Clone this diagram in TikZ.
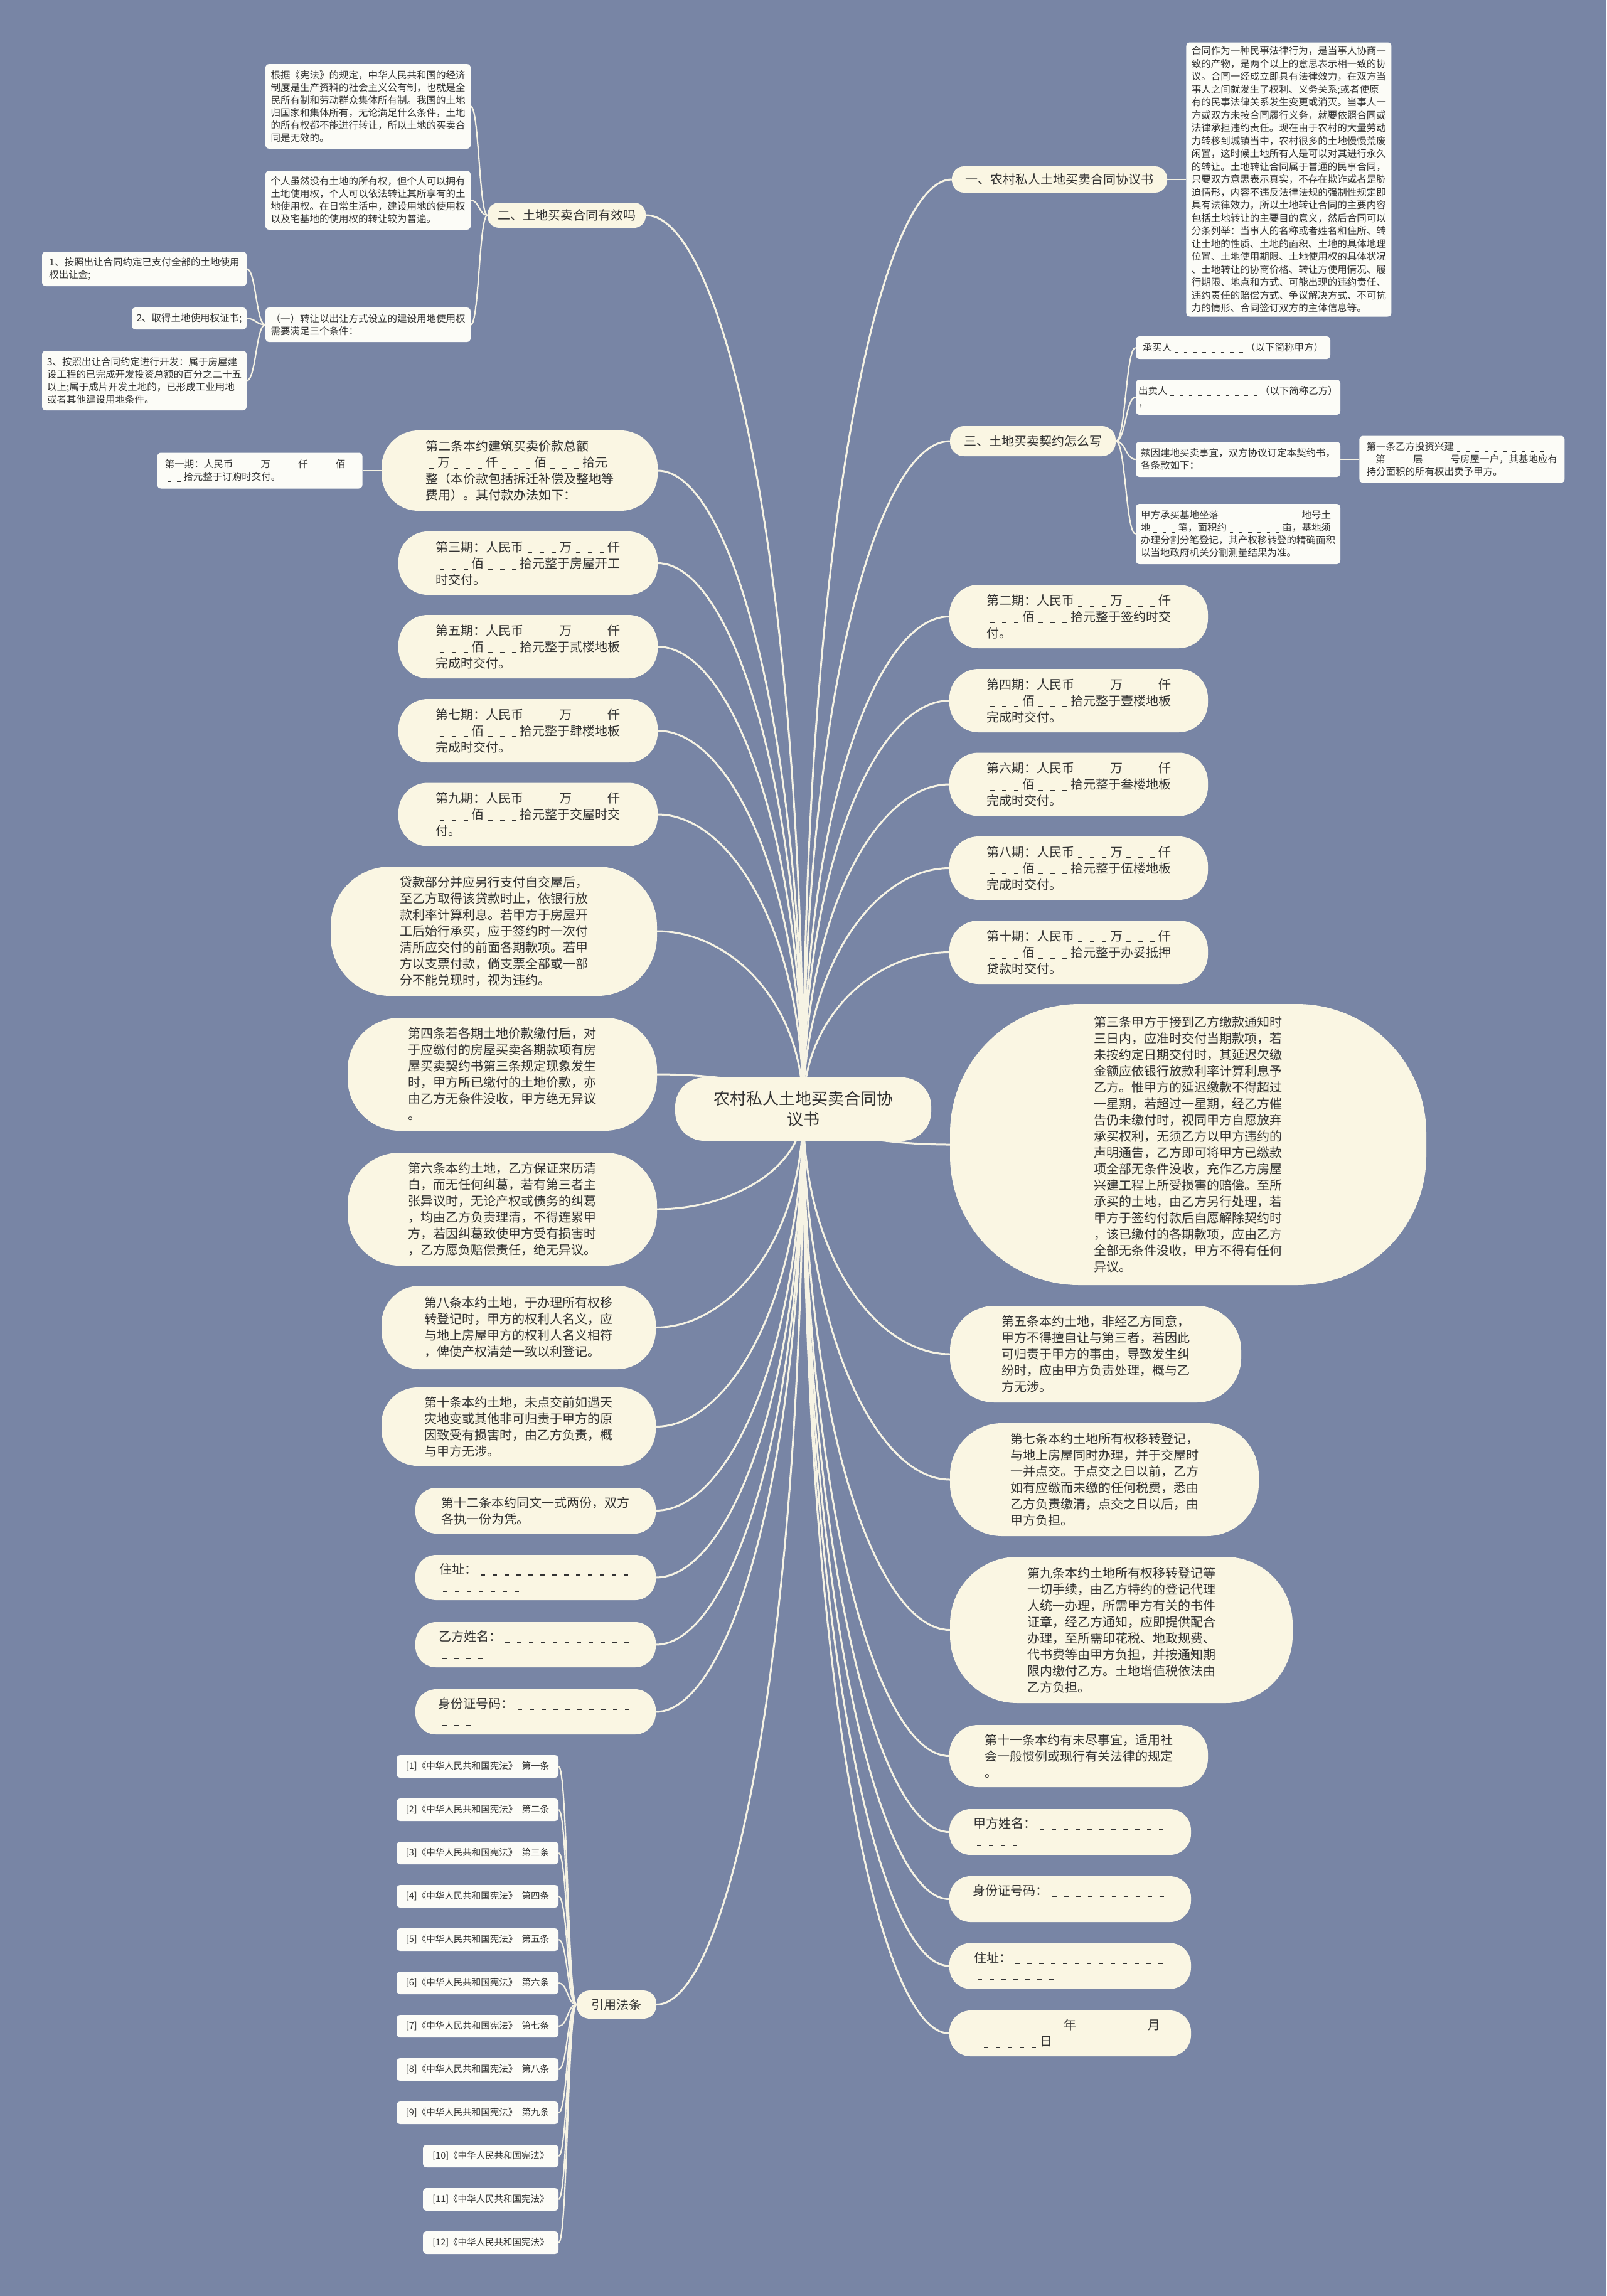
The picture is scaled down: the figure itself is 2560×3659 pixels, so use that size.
\documentclass[tikz,border=0pt]{standalone}
\usepackage{fontspec}
\setmainfont{Noto Sans CJK SC}
\usepackage{xcolor}
\usetikzlibrary{calc, positioning}
\definecolor{bgblue}{RGB}{120,133,165}
\definecolor{cream}{RGB}{250,246,227}
\definecolor{paper}{RGB}{252,252,247}
\definecolor{ink}{RGB}{51,51,51}
\definecolor{wire}{RGB}{246,243,228}
\pgfdeclarelayer{bg}
\pgfdeclarelayer{edges}
\pgfsetlayers{bg,edges,main}
% blank fill-in marks
\ExplSyntaxOn
\cs_new:Npn \blk #1
  { \prg_replicate:nn {#1} { \hbox_to_wd:nn { .95em } { \hss \rule[-.12em]{.35em}{.06em} \hss } } }
\ExplSyntaxOff
\newcommand{\rootlink}[1]{\draw[trunk] (root.center) .. controls ($(root.center)!.6!(root.center |- #1)$) and ($(root.center |- #1)!.5!(#1)$) .. (#1);}
\newcommand{\sublink}[2]{\draw[twig] (#1) .. controls ($(#1)!.5!(#2 |- #1)$) and ($(#2)!.5!(#1 |- #2)$) .. (#2);}

\begin{document}
\begin{tikzpicture}[
    x=1pt, y=-1pt,
    box/.style   ={fill=paper, rounded corners=6pt, inner sep=0pt, align=left,
                   text=ink, font=\fontsize{15.5}{20}\selectfont},
    lawref/.style={box, minimum height=36pt, font=\fontsize{14.5}{18}\selectfont},
    bub/.style   ={fill=cream, inner sep=0pt, align=left, text=ink,
                   minimum height=#1, rounded corners=.46*#1,
                   font=\fontsize{20}{26}\selectfont},
    topic/.style ={bub=#1, align=center, font=\fontsize{20}{24}\selectfont},
    trunk/.style ={draw=wire, line width=3pt},
    twig/.style  ={draw=wire, line width=2.2pt},
]
\useasboundingbox (0,0) rectangle (2560,3659);
\begin{pgfonlayer}{bg}
\fill[bgblue] (0,0) rectangle (2560,3659);
\end{pgfonlayer}

% centre
\node[bub=101, minimum width=408, align=center, font=\fontsize{26}{33}\selectfont]
     (root) at (1280,1767.5) {农村私人土地买卖合同协\\议书};

% section one
\node[topic=42, minimum width=343] (one) at (1688.5,286) {一、农村私人土地买卖合同协议书};
\node[box, minimum width=327, minimum height=437, font=\fontsize{15.5}{20.5}\selectfont,
      right=30pt of one] (meaning)
     {合同作为一种民事法律行为，是当事人协商一\\
      致的产物，是两个以上的意思表示相一致的协\\
      议。合同一经成立即具有法律效力，在双方当\\
      事人之间就发生了权利、义务关系;或者使原\\
      有的民事法律关系发生变更或消灭。当事人一\\
      方或双方未按合同履行义务，就要依照合同或\\
      法律承担违约责任。现在由于农村的大量劳动\\
      力转移到城镇当中，农村很多的土地慢慢荒废\\
      闲置，这时候土地所有人是可以对其进行永久\\
      的转让。土地转让合同属于普通的民事合同，\\
      只要双方意思表示真实，不存在欺诈或者是胁\\
      迫情形，内容不违反法律法规的强制性规定即\\
      具有法律效力，所以土地转让合同的主要内容\\
      包括土地转让的主要目的意义，然后合同可以\\
      分条列举：当事人的名称或者姓名和住所、转\\
      让土地的性质、土地的面积、土地的具体地理\\
      位置、土地使用期限、土地使用权的具体状况\\
      、土地转让的协商价格、转让方使用情况、履\\
      行期限、地点和方式、可能出现的违约责任、\\
      违约责任的赔偿方式、争议解决方式、不可抗\\
      力的情形、合同签订双方的主体信息等。};

% section two
\node[topic=40, minimum width=252] (two) at (903,343) {二、土地买卖合同有效吗};
\node[box, minimum width=327, minimum height=135] (law) at (586.5,169.5)
     {根据《宪法》的规定，中华人民共和国的经济\\
      制度是生产资料的社会主义公有制，也就是全\\
      民所有制和劳动群众集体所有制。我国的土地\\
      归国家和集体所有，无论满足什么条件，土地\\
      的所有权都不能进行转让，所以土地的买卖合\\
      同是无效的。};
\node[box, minimum width=327, minimum height=94] (usage) at (586.5,319)
     {个人虽然没有土地的所有权，但个人可以拥有\\
      土地使用权，个人可以依法转让其所享有的土\\
      地使用权。在日常生活中，建设用地的使用权\\
      以及宅基地的使用权的转让较为普遍。};
\node[box, minimum width=327, minimum height=55] (cond) at (586.5,517.5)
     {（一）转让以出让方式设立的建设用地使用权\\
      需要满足三个条件：};
\node[box, minimum width=326, minimum height=55] (cond1) at (230,428.5)
     {1、按照出让合同约定已支付全部的土地使用\\
      权出让金;};
\node[box, minimum width=183, minimum height=35] (cond2) at (301.5,507.5)
     {2、取得土地使用权证书;};
\node[box, minimum width=326, minimum height=95] (cond3) at (230,606.5)
     {3、按照出让合同约定进行开发：属于房屋建\\
      设工程的已完成开发投资总额的百分之二十五\\
      以上;属于成片开发土地的，已形成工业用地\\
      或者其他建设用地条件。};

% section three
\node[topic=48, minimum width=264] (three) at (1646,703) {三、土地买卖契约怎么写};
\node[box, minimum width=310, minimum height=36] (buyer) at (1965,554)
     {承买人\blk{8}（以下简称甲方）};
\node[box, minimum width=326, minimum height=56] (seller) at (1973,633)
     {出卖人\blk{10}（以下简称乙方）\\
      ，};
\node[box, minimum width=326, minimum height=56] (intro) at (1973,732)
     {兹因建地买卖事宜，双方协议订定本契约书，\\
      各条款如下：};
\node[box, minimum width=327, minimum height=75, right=30pt of intro] (art1)
     {第一条乙方投资兴建\blk{10}\\
      \blk{1}第\blk{3}层\blk{3}号房屋一户，其基地应有\\
      持分面积的所有权出卖予甲方。};
\node[box, minimum width=326, minimum height=96] (site) at (1973,851)
     {甲方承买基地坐落\blk{9}地号土\\
      地\blk{3}笔，面积约\blk{6}亩，基地须\\
      办理分割分笔登记，其产权移转登的精确面积\\
      以当地政府机关分割测量结果为准。};

% left column of clauses
\node[bub=128, minimum width=440] (art2) at (828,750)
     {第二条本约建筑买卖价款总额\blk{2}\\
      \blk{1}万\blk{3}仟\blk{3}佰\blk{3}拾元\\
      整（本价款包括拆迁补偿及整地等\\
      费用）。其付款办法如下：};
\node[box, minimum width=327, minimum height=57, left=30pt of art2] (pay1)
     {第一期：人民币\blk{3}万\blk{3}仟\blk{3}佰\blk{1}\\
      \blk{2}拾元整于订购时交付。};
\node[bub=101, minimum width=413] (pay3) at (841.5,897.5)
     {第三期：人民币\blk{3}万\blk{3}仟\\
      \blk{3}佰\blk{3}拾元整于房屋开工\\
      时交付。};
\node[bub=101, minimum width=413] (pay5) at (841.5,1030.5)
     {第五期：人民币\blk{3}万\blk{3}仟\\
      \blk{3}佰\blk{3}拾元整于贰楼地板\\
      完成时交付。};
\node[bub=101, minimum width=413] (pay7) at (841.5,1164.5)
     {第七期：人民币\blk{3}万\blk{3}仟\\
      \blk{3}佰\blk{3}拾元整于肆楼地板\\
      完成时交付。};
\node[bub=101, minimum width=413] (pay9) at (841.5,1298)
     {第九期：人民币\blk{3}万\blk{3}仟\\
      \blk{3}佰\blk{3}拾元整于交屋时交\\
      付。};
\node[bub=206, minimum width=520] (loan) at (787,1484)
     {贷款部分并应另行支付自交屋后，\\
      至乙方取得该贷款时止，依银行放\\
      款利率计算利息。若甲方于房屋开\\
      工后始行承买，应于签约时一次付\\
      清所应交付的前面各期款项。若甲\\
      方以支票付款，倘支票全部或一部\\
      分不能兑现时，视为违约。};
\node[bub=180, minimum width=493] (art4) at (800.5,1712)
     {第四条若各期土地价款缴付后，对\\
      于应缴付的房屋买卖各期款项有房\\
      屋买卖契约书第三条规定现象发生\\
      时，甲方所已缴付的土地价款，亦\\
      由乙方无条件没收，甲方绝无异议\\
      。};
\node[bub=180, minimum width=493] (art6) at (800.5,1927)
     {第六条本约土地，乙方保证来历清\\
      白，而无任何纠葛，若有第三者主\\
      张异议时，无论产权或债务的纠葛\\
      ，均由乙方负责理清，不得连累甲\\
      方，若因纠葛致使甲方受有损害时\\
      ，乙方愿负赔偿责任，绝无异议。};
\node[bub=133, minimum width=437] (art8) at (826.5,2115.5)
     {第八条本约土地，于办理所有权移\\
      转登记时，甲方的权利人名义，应\\
      与地上房屋甲方的权利人名义相符\\
      ，俾使产权清楚一致以利登记。};
\node[bub=125, minimum width=437] (art10) at (826.5,2273.5)
     {第十条本约土地，未点交前如遇天\\
      灾地变或其他非可归责于甲方的原\\
      因致受有损害时，由乙方负责，概\\
      与甲方无涉。};
\node[bub=73, minimum width=383] (art12) at (853.5,2407.5)
     {第十二条本约同文一式两份，双方\\
      各执一份为凭。};
\node[bub=72, minimum width=383] (addrB) at (853.5,2514) {住址：\blk{13}\\\blk{7}};
\node[bub=72, minimum width=383] (nameB) at (853.5,2621) {乙方姓名：\blk{11}\\\blk{4}};
\node[bub=72, minimum width=383] (idB) at (853.5,2728) {身份证号码：\blk{10}\\\blk{3}};

% cited articles
\node[topic=45, minimum width=127] (laws) at (982.5,3194.5) {引用法条};
\foreach \i/\t in {1/第一条, 2/第二条, 3/第三条, 4/第四条, 5/第五条,
                   6/第六条, 7/第七条, 8/第八条, 9/第九条}
  \node[lawref, minimum width=258] (ref\i) at (761, 2746+69*\i)
       {[\i]《中华人民共和国宪法》\hspace{.5em}\t};
\foreach \i in {10,11,12}
  \node[lawref, minimum width=216] (ref\i) at (782, 2746+69*\i)
       {[\i]《中华人民共和国宪法》};

% right column of clauses
\node[bub=101, minimum width=412] (pay2) at (1719,982.5)
     {第二期：人民币\blk{3}万\blk{3}仟\\
      \blk{3}佰\blk{3}拾元整于签约时交\\
      付。};
\node[bub=101, minimum width=412] (pay4) at (1719,1116.5)
     {第四期：人民币\blk{3}万\blk{3}仟\\
      \blk{3}佰\blk{3}拾元整于壹楼地板\\
      完成时交付。};
\node[bub=101, minimum width=412] (pay6) at (1719,1250)
     {第六期：人民币\blk{3}万\blk{3}仟\\
      \blk{3}佰\blk{3}拾元整于叁楼地板\\
      完成时交付。};
\node[bub=101, minimum width=412] (pay8) at (1719,1383.5)
     {第八期：人民币\blk{3}万\blk{3}仟\\
      \blk{3}佰\blk{3}拾元整于伍楼地板\\
      完成时交付。};
\node[bub=101, minimum width=412] (pay10) at (1719,1517.5)
     {第十期：人民币\blk{3}万\blk{3}仟\\
      \blk{3}佰\blk{3}拾元整于办妥抵押\\
      贷款时交付。};
\node[bub=448, minimum width=759] (art3) at (1893.5,1824)
     {第三条甲方于接到乙方缴款通知时\\
      三日内，应准时交付当期款项，若\\
      未按约定日期交付时，其延迟欠缴\\
      金额应依银行放款利率计算利息予\\
      乙方。惟甲方的延迟缴款不得超过\\
      一星期，若超过一星期，经乙方催\\
      告仍未缴付时，视同甲方自愿放弃\\
      承买权利，无须乙方以甲方违约的\\
      声明通告，乙方即可将甲方已缴款\\
      项全部无条件没收，充作乙方房屋\\
      兴建工程上所受损害的赔偿。至所\\
      承买的土地，由乙方另行处理，若\\
      甲方于签约付款后自愿解除契约时\\
      ，该已缴付的各期款项，应由乙方\\
      全部无条件没收，甲方不得有任何\\
      异议。};
\node[bub=154, minimum width=464] (art5) at (1746,2158)
     {第五条本约土地，非经乙方同意，\\
      甲方不得擅自让与第三者，若因此\\
      可归责于甲方的事由，导致发生纠\\
      纷时，应由甲方负责处理，概与乙\\
      方无涉。};
\node[bub=180, minimum width=492] (art7) at (1760,2358)
     {第七条本约土地所有权移转登记，\\
      与地上房屋同时办理，并于交屋时\\
      一并点交。于点交之日以前，乙方\\
      如有应缴而未缴的任何税费，悉由\\
      乙方负责缴清，点交之日以后，由\\
      甲方负担。};
\node[bub=233, minimum width=546] (art9) at (1787,2597.5)
     {第九条本约土地所有权移转登记等\\
      一切手续，由乙方特约的登记代理\\
      人统一办理，所需甲方有关的书件\\
      证章，经乙方通知，应即提供配合\\
      办理，至所需印花税、地政规费、\\
      代书费等由甲方负担，并按通知期\\
      限内缴付乙方。土地增值税依法由\\
      乙方负担。};
\node[bub=99, minimum width=412] (art11) at (1719,2798.5)
     {第十一条本约有未尽事宜，适用社\\
      会一般惯例或现行有关法律的规定\\
      。};
\node[bub=73, minimum width=385] (nameA) at (1705.5,2919.5) {甲方姓名：\blk{11}\\\blk{4}};
\node[bub=73, minimum width=385] (idA) at (1705.5,3026.5) {身份证号码：\blk{10}\\\blk{3}};
\node[bub=73, minimum width=385] (addrA) at (1705.5,3133) {住址：\blk{13}\\\blk{7}};
\node[bub=73, minimum width=385] (date) at (1705.5,3240.5) {\blk{7}年\blk{6}月\\\blk{5}日};

% connectors
\begin{pgfonlayer}{edges}
\foreach \n in {one, three, pay2, pay4, pay6, pay8, pay10, art3, art5, art7, art9,
                art11, nameA, idA, addrA, date}
  {\rootlink{\n.west}}
\foreach \n in {two, art2, pay3, pay5, pay7, pay9, loan, art4, art6, art8, art10,
                art12, addrB, nameB, idB, laws}
  {\rootlink{\n.east}}
\sublink{one.east}{meaning.west}
\foreach \n in {law, usage, cond} {\sublink{two.west}{\n.east}}
\foreach \n in {cond1, cond2, cond3} {\sublink{cond.west}{\n.east}}
\foreach \n in {buyer, seller, intro, site} {\sublink{three.east}{\n.west}}
\sublink{intro.east}{art1.west}
\sublink{art2.west}{pay1.east}
\foreach \i in {1,...,12} {\sublink{laws.west}{ref\i.east}}
\end{pgfonlayer}
\end{tikzpicture}
\end{document}
